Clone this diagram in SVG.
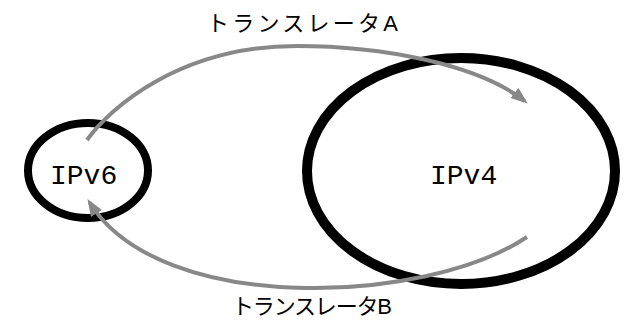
<svg xmlns="http://www.w3.org/2000/svg" width="632" height="326" viewBox="0 0 632 326">
  <style>
    .ring { fill: none; stroke: #000; }
    .net { font-family: "Liberation Mono", "Courier New", monospace; font-size: 28px; fill: #000; }
    .lbl { font-family: "Liberation Sans", "Noto Sans CJK JP", sans-serif; font-size: 22px; fill: #000; }
    .conn { fill: none; stroke: #888; stroke-width: 4; }
  </style>
  <defs>
    <marker id="head" markerUnits="userSpaceOnUse" markerWidth="18" markerHeight="14" refX="13" refY="6.5" orient="auto" viewBox="0 0 18 14">
      <path d="M0,0 L17,6.5 L0,13 z" fill="#888"/>
    </marker>
  </defs>
  <rect width="632" height="326" fill="#fff"/>
  <g id="node-ipv6">
    <ellipse class="ring" cx="88" cy="170.5" rx="60" ry="47.5" stroke-width="8"/>
    <text class="net" x="50" y="184">IPv6</text>
  </g>
  <g id="node-ipv4">
    <ellipse class="ring" cx="461" cy="171" rx="154" ry="113" stroke-width="10"/>
    <text class="net" x="430" y="184">IPv4</text>
  </g>
  <g id="connectors">
    <path class="conn" d="M87,140 C110,108 180,46 297,46 C380,46 477.6,63.8 524.6,101.1" marker-end="url(#head)"/>
    <path class="conn" d="M527,237 C425,305 160,316 89.6,202.5" marker-end="url(#head)"/>
  </g>
  <g id="label-a">
    <text class="lbl" x="207" y="31" textLength="191" lengthAdjust="spacing">トランスレータA</text>
  </g>
  <g id="label-b">
    <text class="lbl" x="232" y="314" textLength="160" lengthAdjust="spacing">トランスレータB</text>
  </g>
</svg>
